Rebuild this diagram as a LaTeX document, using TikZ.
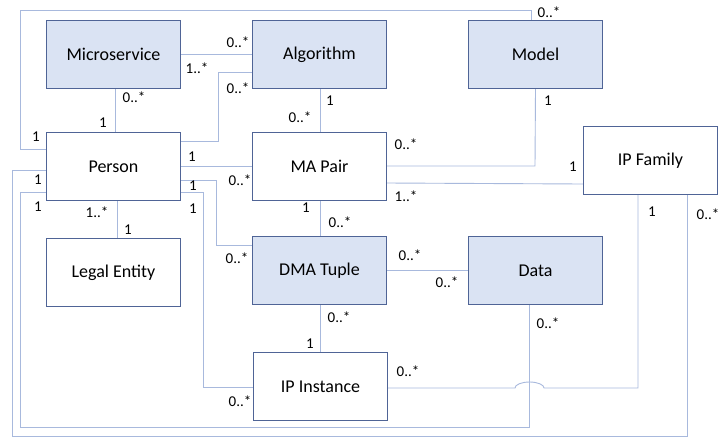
\documentclass[tikz,border=0pt]{standalone}
\usepackage{fontspec}
\setmainfont{Carlito}
\pgfdeclarelayer{background}
\pgfsetlayers{background,main}
\begin{document}
\begin{tikzpicture}[x=1pt,y=-1pt,
  box/.style={draw=boxedge,line width=1pt,minimum width=134pt,minimum height=68pt,inner sep=0pt,font=\fontsize{18}{21}\selectfont,anchor=north west},
  bluebox/.style={box,fill=boxfill},
  whitebox/.style={box,fill=white},
  conn/.style={draw=linecol,line width=0.9pt},
  lab/.style={font=\fontsize{15}{17}\selectfont,inner sep=0pt}]
\definecolor{boxedge}{HTML}{4F6496}
\definecolor{boxfill}{HTML}{DAE3F3}
\definecolor{linecol}{HTML}{A8B9DD}
\useasboundingbox (0,0) rectangle (720,437);

% nodes
\node[bluebox] (ms) at (46,20) {Microservice};
\node[bluebox] (alg) at (252,20) {Algorithm};
\node[bluebox] (model) at (468,20) {Model};
\node[whitebox] (person) at (46,132) {Person};
\node[whitebox] (ma) at (252,132) {MA Pair};
\node[whitebox] (ipf) at (583,126) {IP Family};
\node[whitebox] (legal) at (46,238) {Legal Entity};
\node[bluebox] (dma) at (252,236) {DMA Tuple};
\node[bluebox] (data) at (468,236) {Data};
\node[whitebox] (ipi) at (253,352) {IP Instance};

% helper coordinates
\coordinate (pL1) at (46,149);
\coordinate (pL2) at (46,170);
\coordinate (pL3) at (46,192);
\coordinate (pR1) at (180,141);
\coordinate (pR2) at (180,166);
\coordinate (pR3) at (180,180);
\coordinate (pR4) at (180,192);

\begin{pgfonlayer}{background}
\fill[white] (0,0) rectangle (720,437);
\draw[conn] (pL1) -- (20,149) -- (20,10) -- (531,10) -- (model.north -| 531,0);
\draw[conn] (ms.east |- 0,54) -- (alg.west |- 0,54);
\draw[conn] (pR1) -- (218,141) -- (218,72) -- (alg.west |- 0,72);
\draw[conn] (ms.south -| 115,0) -- (person.north -| 115,0);
\draw[conn] (alg.south -| 320,0) -- (ma.north -| 320,0);
\draw[conn] (pR2) -- (ma.west |- 0,166);
\draw[conn] (model.south) -- (535,166) -- (ma.east |- 0,166);
\draw[conn] (ma.east |- 0,183) -- (ipf.west |- 0,184);
\draw[conn] (pR3) -- (216,180) -- (216,245) -- (dma.west |- 0,245);
\draw[conn] (pR4) -- (203,192) -- (203,387) -- (ipi.west |- 0,387);
\draw[conn] (person.south -| 117,0) -- (legal.north -| 117,0);
\draw[conn] (ma.south -| 320,0) -- (dma.north -| 320,0);
\draw[conn] (dma.east |- 0,270) -- (data.west |- 0,270);
\draw[conn] (dma.south -| 320,0) -- (ipi.north -| 320,0);
\draw[conn] (ipi.east |- 0,388) -- (515,388) arc[start angle=180,end angle=0,x radius=14.5,y radius=-6] -- (638,388) -- (ipf.south -| 638,0);
\draw[conn] (data.south -| 529,0) -- (529,427) -- (20,427) -- (20,192) -- (pL3);
\draw[conn] (pL2) -- (12,170) -- (12,436) -- (687,436) -- (ipf.south -| 687,0);
\end{pgfonlayer}

% labels
\node[lab] (l1) at (36,137) {1};
\node[lab] (l2) at (549,12) {0..*};
\node[lab] (l3) at (238,42) {0..*};
\node[lab] (l4) at (197,68) {1..*};
\node[lab] (l5) at (238,88) {0..*};
\node[lab] (l6) at (134,97) {0..*};
\node[lab] (l7) at (103,123) {1};
\node[lab] (l8) at (330,101) {1};
\node[lab] (l9) at (300,117) {0..*};
\node[lab] (l10) at (192,157) {1};
\node[lab] (l11) at (240,180) {0..*};
\node[lab] (l12) at (548,101) {1};
\node[lab] (l13) at (406,144) {0..*};
\node[lab] (l14) at (406,196) {1..*};
\node[lab] (l15) at (573,167) {1};
\node[lab] (l16) at (38,180) {1};
\node[lab] (l17) at (38,207) {1};
\node[lab] (l18) at (193,186) {1};
\node[lab] (l19) at (193,209) {1};
\node[lab] (l20) at (97,212) {1..*};
\node[lab] (l21) at (128,230) {1};
\node[lab] (l22) at (306,208) {1};
\node[lab] (l23) at (340,222) {0..*};
\node[lab] (l24) at (237,258) {0..*};
\node[lab] (l25) at (410,255) {0..*};
\node[lab] (l26) at (447,282) {0..*};
\node[lab] (l27) at (652,212) {1};
\node[lab] (l28) at (708,214) {0..*};
\node[lab] (l29) at (548,323) {0..*};
\node[lab] (l30) at (339,317) {0..*};
\node[lab] (l31) at (310,344) {1};
\node[lab] (l32) at (408,371) {0..*};
\node[lab] (l33) at (240,401) {0..*};
\end{tikzpicture}
\end{document}
